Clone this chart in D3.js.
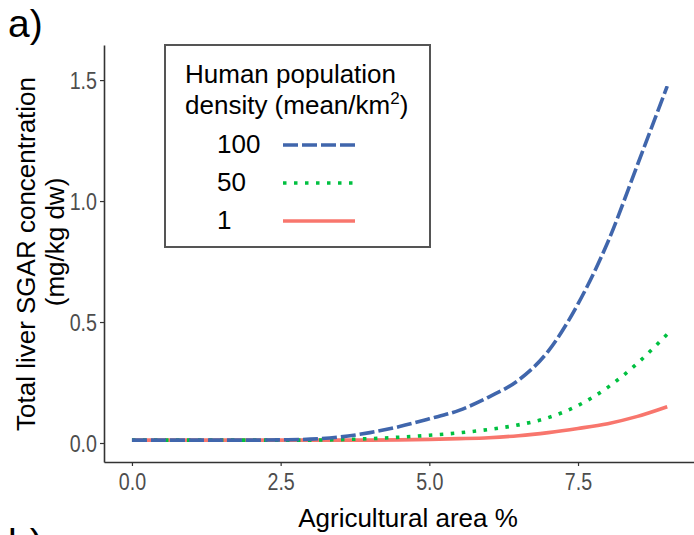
<!DOCTYPE html>
<html>
<head>
<meta charset="utf-8">
<script src="https://cdn.jsdelivr.net/npm/d3@7"></script>
<style>
  body { margin: 0; background: #fff; }
  text { font-family: "Liberation Sans", Arial, sans-serif; }
</style>
</head>
<body>
<div id="chart"></div>
<script>
(function () {
    'use strict';
    var width = 694;
    var height = 535;

    // agricultural area (%)
    var area = [0, 0.5, 1, 1.5, 2, 2.5, 3, 3.5, 4, 4.5, 5, 5.5, 6, 6.5, 7, 7.5, 8, 8.5, 9];
    // predicted SGAR concentration per human density level
    var dens100 = [0.012, 0.012, 0.012, 0.012, 0.012, 0.013, 0.016, 0.025, 0.043, 0.068, 0.10, 0.135, 0.19, 0.26, 0.38, 0.575, 0.83, 1.15, 1.475];
    var dens50 = [0.012, 0.012, 0.012, 0.012, 0.012, 0.012, 0.012, 0.014, 0.018, 0.024, 0.032, 0.042, 0.056, 0.075, 0.105, 0.155, 0.23, 0.33, 0.45];
    var dens1 = [0.012, 0.012, 0.012, 0.012, 0.012, 0.012, 0.012, 0.012, 0.012, 0.013, 0.015, 0.018, 0.022, 0.03, 0.043, 0.06, 0.08, 0.11, 0.15];

    var seriesNames = ['100', '50', '1'];
    var seriesValues = [dens100, dens50, dens1];
    var seriesColors = ['#4066AC', '#00C040', '#F8766D'];
    var seriesDash = ['15,4', '3.5,7.5', null];

    var xTicks = [0, 2.5, 5, 7.5];
    var yTicks = [0, 0.5, 1, 1.5];

    var svg = d3.select('#chart')
        .append('svg')
        .attr('width', width)
        .attr('height', height);

    var x = d3.scaleLinear().domain([-0.47, 9.45]).range([104, 694]);
    var y = d3.scaleLinear().domain([-0.0785, 1.645]).range([462, 45]);

    // axes
    var xAxis = svg.append('g')
        .attr('transform', 'translate(0,462)')
        .call(d3.axisBottom(x).tickValues(xTicks).tickSizeInner(4).tickSizeOuter(0).tickPadding(7)
            .tickFormat(d3.format('.1f')));
    var yAxis = svg.append('g')
        .attr('transform', 'translate(104,0)')
        .call(d3.axisLeft(y).tickValues(yTicks).tickSizeInner(4).tickSizeOuter(0).tickPadding(3)
            .tickFormat(d3.format('.1f')));

    [xAxis, yAxis].forEach(function (ax) {
        ax.select('.domain').attr('stroke', '#333').attr('stroke-width', 1.6);
        ax.selectAll('.tick line').attr('stroke', '#333').attr('stroke-width', 1.2);
        ax.selectAll('.tick text')
            .attr('fill', '#4D4D4D')
            .style('font-size', '24px');
    });
    // the tick labels in the original are narrow
    xAxis.selectAll('.tick text').attr('dy', '0.71em').attr('transform', 'scale(0.82,1)');
    yAxis.selectAll('.tick text').attr('dy', '0.35em')
        .attr('x', -7 / 0.82)
        .attr('transform', 'scale(0.82,1)');

    // curves
    var line = d3.line()
        .x(function (d) { return x(d[0]); })
        .y(function (d) { return y(d[1]); })
        .curve(d3.curveMonotoneX);

    var order = [2, 1, 0];
    order.forEach(function (i) {
        var pts = area.map(function (a, j) { return [a, seriesValues[i][j]]; });
        svg.append('path')
            .datum(pts)
            .attr('d', line)
            .attr('fill', 'none')
            .attr('stroke', seriesColors[i])
            .attr('stroke-width', 3.6)
            .attr('stroke-dasharray', seriesDash[i]);
    });

    // axis titles
    svg.append('text')
        .attr('x', 408).attr('y', 527)
        .attr('text-anchor', 'middle')
        .style('font-size', '26px')
        .text('Agricultural area %');

    svg.append('text')
        .attr('transform', 'translate(35,254) rotate(-90)')
        .attr('text-anchor', 'middle')
        .style('font-size', '26px')
        .text('Total liver SGAR concentration');
    svg.append('text')
        .attr('transform', 'translate(64,242) rotate(-90)')
        .attr('text-anchor', 'middle')
        .style('font-size', '26px')
        .text('(mg/kg dw)');

    // panel labels
    svg.append('text').attr('x', 8).attr('y', 37).style('font-size', '39px').text('a)');
    svg.append('text').attr('x', 8).attr('y', 556).style('font-size', '39px').text('b)');

    // legend
    var legend = svg.append('g');
    legend.append('rect')
        .attr('x', 165).attr('y', 45)
        .attr('width', 265).attr('height', 202)
        .attr('fill', '#fff')
        .attr('stroke', '#555')
        .attr('stroke-width', 2);
    legend.append('text')
        .attr('x', 185).attr('y', 83)
        .style('font-size', '26px')
        .text('Human population');
    var t2 = legend.append('text')
        .attr('x', 185).attr('y', 114)
        .style('font-size', '26px');
    t2.append('tspan').text('density (mean/km');
    t2.append('tspan').attr('dy', -10).style('font-size', '17px').text('2');
    t2.append('tspan').attr('dy', 10).text(')');

    var itemY = [145, 183, 221];
    seriesNames.forEach(function (name, i) {
        legend.append('text')
            .attr('x', 217).attr('y', itemY[i] + 8)
            .style('font-size', '26px')
            .text(name);
        legend.append('line')
            .attr('x1', 283).attr('x2', 355)
            .attr('y1', itemY[i]).attr('y2', itemY[i])
            .attr('stroke', seriesColors[i])
            .attr('stroke-width', 3.6)
            .attr('stroke-dasharray', seriesDash[i]);
    });
}());
</script>
</body>
</html>
